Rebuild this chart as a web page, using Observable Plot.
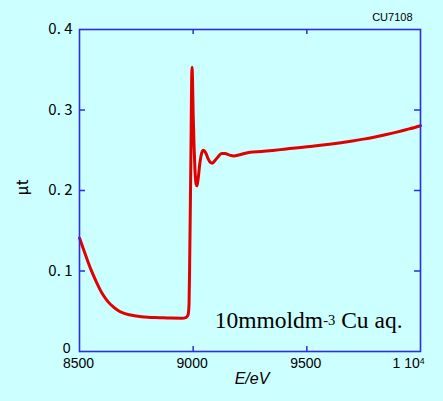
<!DOCTYPE html>
<html><head><meta charset="utf-8">
<script src="https://cdn.jsdelivr.net/npm/d3@7"></script>
<script src="https://cdn.jsdelivr.net/npm/@observablehq/plot@0.6"></script>
<style>html,body{margin:0;padding:0;background:#ccffff;}</style>
</head><body><div id="chart"></div>
<script>
// Cu K-edge XAFS spectrum, 10 mmol dm-3 Cu aq. (CU7108)
const energy = [8500, 8525, 8550, 8575, 8600, 8625, 8650, 8675, 8700, 8750, 8800, 8850, 8900, 8950, 8970, 8978, 8982, 8985, 8988, 8991, 8993, 8995, 8997, 9000, 9004, 9008, 9013, 9017, 9022, 9030, 9038, 9045, 9055, 9065, 9075, 9085, 9095, 9110, 9125, 9140, 9160, 9180, 9200, 9225, 9250, 9300, 9350, 9400, 9450, 9500, 9550, 9600, 9650, 9700, 9750, 9800, 9850, 9900, 9950, 10000];
const mu = [0.141, 0.121, 0.102, 0.086, 0.072, 0.062, 0.055, 0.050, 0.047, 0.0440, 0.0425, 0.0420, 0.0415, 0.0413, 0.0425, 0.046, 0.060, 0.120, 0.190, 0.270, 0.330, 0.353, 0.340, 0.295, 0.255, 0.225, 0.208, 0.206, 0.215, 0.235, 0.247, 0.250, 0.247, 0.240, 0.235, 0.234, 0.237, 0.242, 0.246, 0.246, 0.244, 0.243, 0.244, 0.246, 0.2475, 0.2485, 0.2498, 0.2513, 0.2528, 0.2543, 0.2558, 0.2575, 0.2594, 0.2615, 0.2638, 0.2665, 0.2695, 0.2728, 0.2765, 0.2805];

const xTicks = [8500, 9000, 9500];
const xTickLabels = ["8500", "9000", "9500"];
const xLastTick = [10000];
const xLastBase = "1 10";
const xLastExp = "4";
const yTicks = [0.1, 0.2, 0.3, 0.4];
const yTickLabels = ["0. 1", "0. 2", "0. 3", "0. 4"];
const yZeroTick = [0];
const yZeroLabel = "0";
const innerXTicks = [9000, 9500];
const innerYTicks = [0.1, 0.2, 0.3];
const xLabel = "E/eV";
const yLabel = "μt";
const codeLabel = "CU7108";
const annotBase = "10mmoldm";
const annotExp = "-3";
const annotRest = " Cu aq.";
const annotPos = [{e: 9095, mu: 0.038}];

const rows = energy.map((e, i) => ({e, mu: mu[i]}));
const blue = "#2b2be8";
const W = 443, H = 401, mL = 79, mR = 23, mT = 29, mB = 50;
const fw = W - mL - mR, fh = H - mT - mB;

const plot = Plot.plot({
  width: W, height: H,
  marginLeft: mL, marginRight: mR, marginTop: mT, marginBottom: mB,
  style: {background: "#ccffff", overflow: "visible"},
  x: {domain: [8500, 10000], axis: null},
  y: {domain: [0, 0.4], axis: null},
  marks: [
    Plot.line(rows, {x: "e", y: "mu", stroke: "#e00000", strokeWidth: 3, curve: "monotone-x"}),
    Plot.frame({stroke: blue, strokeWidth: 1.6}),
    Plot.ruleX(innerXTicks, {x: d => d, insetBottom: fh - 5, stroke: blue, strokeWidth: 1.5}),
    Plot.ruleX(innerXTicks, {x: d => d, insetTop: fh - 5, stroke: blue, strokeWidth: 1.5}),
    Plot.ruleY(innerYTicks, {y: d => d, insetRight: fw - 6, stroke: blue, strokeWidth: 1.5}),
    Plot.ruleY(innerYTicks, {y: d => d, insetLeft: fw - 6, stroke: blue, strokeWidth: 1.5}),
    Plot.text(xTicks, {x: d => d, text: (d, i) => xTickLabels[i], frameAnchor: "bottom", dy: 12, dx: -1, lineAnchor: "middle", fontSize: 14, fontFamily: "Liberation Sans, Arial, sans-serif", fill: "#000"}),
    Plot.text(xLastTick, {x: d => d, text: () => xLastBase + "^" + xLastExp, frameAnchor: "bottom", dy: 12, dx: -12, lineAnchor: "middle", fontSize: 14, fontFamily: "Liberation Sans, Arial, sans-serif", fill: "#000"}),
    Plot.text(yTicks, {y: d => d, text: (d, i) => yTickLabels[i], frameAnchor: "left", dx: -7, textAnchor: "end", lineAnchor: "middle", fontSize: 15, fontFamily: "Noto Sans CJK JP, sans-serif", fill: "#000"}),
    Plot.text(yZeroTick, {y: d => d, text: () => yZeroLabel, frameAnchor: "left", dx: -9, dy: -3, textAnchor: "end", lineAnchor: "middle", fontSize: 14, fontFamily: "Liberation Sans, Arial, sans-serif", fill: "#000"}),
    Plot.text([xLabel], {text: d => d, frameAnchor: "bottom", dy: 27, dx: 2, lineAnchor: "middle", fontSize: 16, fontStyle: "italic", fontFamily: "Liberation Sans, Arial, sans-serif", fill: "#000"}),
    Plot.text([yLabel], {text: d => d, frameAnchor: "left", dx: -57, dy: 5, rotate: -90, lineAnchor: "middle", fontSize: 16, fontFamily: "Noto Sans CJK JP, sans-serif", fill: "#000"}),
    Plot.text([codeLabel], {text: d => d, frameAnchor: "top-right", dx: -8, dy: -12, textAnchor: "end", lineAnchor: "middle", fontSize: 11, fontFamily: "Liberation Sans Narrow, Liberation Sans, Arial, sans-serif", fill: "#000"}),
    Plot.text(annotPos, {x: "e", y: "mu", text: () => annotBase + "^" + annotExp + "|" + annotRest, textAnchor: "start", lineAnchor: "middle", fontSize: 23.5, fontFamily: "Liberation Serif, Times New Roman, serif", fill: "#000"})
  ]
});

// Turn "base^exp|rest" into text with superscript tspans
d3.select(plot).selectAll("text").each(function() {
  const t = this.textContent;
  if (!t.includes("^")) return;
  const [base, tail] = t.split("^");
  const [exp, rest] = tail.split("|");
  const sel = d3.select(this);
  const fs = parseFloat(sel.attr("font-size") || getComputedStyle(this).fontSize) || 14;
  sel.text(null);
  sel.append("tspan").text(base);
  sel.append("tspan").attr("dy", (-fs * 0.62 * 0.45) + "px").attr("font-size", "0.62em").text(exp);
  if (rest !== undefined) sel.append("tspan").attr("dy", (fs * 0.62 * 0.45) + "px").text(rest);
});
document.getElementById("chart").appendChild(plot);
</script>
</body></html>
